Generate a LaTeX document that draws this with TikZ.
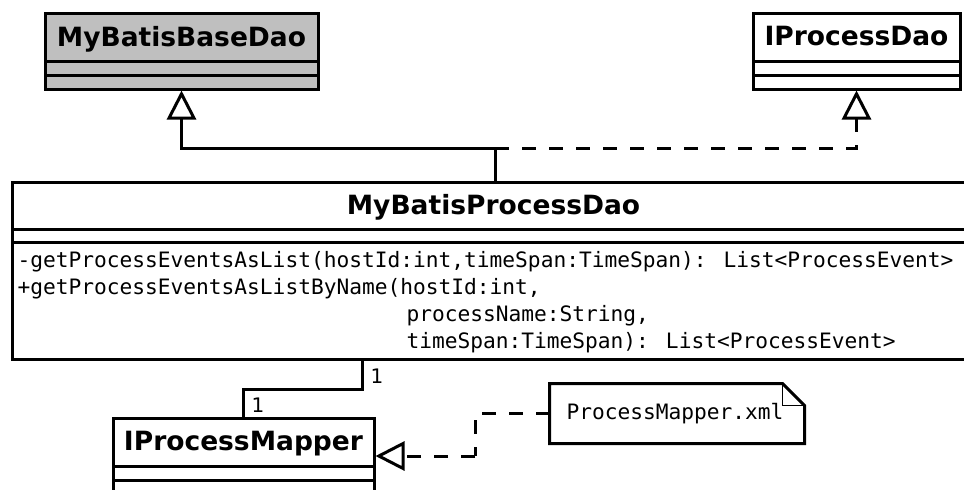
\documentclass[tikz,border=0pt]{standalone}
\usepackage{fontspec}
\newfontfamily\namefont{DejaVu Sans}
\newfontfamily\monofont{DejaVu Sans Mono}
\usetikzlibrary{arrows.meta}
\begin{document}
\begin{tikzpicture}[x=1pt,y=-1pt,
  line width=3pt,
  classbox/.style={draw=black, line width=3pt, rectangle, inner sep=0pt, fill=white},
  classname/.style={font=\namefont\bfseries\fontsize{26.5}{30}\selectfont, anchor=base, inner sep=0pt},
  method/.style={font=\monofont\fontsize{21.2}{27}\selectfont, anchor=base west, inner sep=0pt},
  mult/.style={font=\namefont\fontsize{20}{24}\selectfont, anchor=base west, inner sep=0pt},
  sep/.style={line width=3pt},
  assoc/.style={line width=3pt},
  generalize/.style={line width=3pt, -{Triangle[open, length=29pt, width=29pt, line width=3pt]}},
  realize/.style={line width=3pt, dash pattern=on 14pt off 13pt, -{Triangle[open, length=29pt, width=29pt, line width=3pt]}},
  notelink/.style={line width=3pt, dash pattern=on 14pt off 13pt},
]
\useasboundingbox (0,0) rectangle (964,490);
\clip (0,0) rectangle (964,490);
\fill[white] (0,0) rectangle (964,490);

% MyBatisBaseDao (grey superclass)
\node[classbox, fill=black!25, minimum width=273pt, minimum height=76pt] (base) at (181.5,51) {};
\node[classname] (basename) at (181.5,46) {MyBatisBaseDao};
\draw[sep] (45,61) -- (318,61);
\draw[sep] (45,75) -- (318,75);

% IProcessDao interface
\node[classbox, minimum width=207pt, minimum height=76pt] (ipd) at (856.5,51) {};
\node[classname] (ipdname) at (856.5,45) {IProcessDao};
\draw[sep] (753,61) -- (960,61);
\draw[sep] (753,75) -- (960,75);

% MyBatisProcessDao implementation
\node[classbox, minimum width=963pt, minimum height=177pt] (proc) at (493.5,270.5) {};
\node[classname] (procname) at (493.5,214) {MyBatisProcessDao};
\draw[sep] (12,229) -- (975,229);
\draw[sep] (12,242) -- (975,242);
\node[method] (m1) at (16,267) {-getProcessEventsAsList(hostId:int,timeSpan:TimeSpan): List<ProcessEvent>};
\node[method] (m2) at (16,294) {+getProcessEventsAsListByName(hostId:int,};
\node[method] (m3) at (405,321) {processName:String,};
\node[method] (m4) at (405,348) {timeSpan:TimeSpan): List<ProcessEvent>};

% IProcessMapper interface
\node[classbox, minimum width=261pt, minimum height=82pt] (mapper) at (243.5,459) {};
\node[classname] (mappername) at (243.5,450) {IProcessMapper};
\draw[sep] (113,466) -- (374,466);
\draw[sep] (113,480) -- (374,480);

% Note attached to the mapper
\node[inner sep=0pt, minimum width=252pt, minimum height=57pt,
      font=\monofont\fontsize{21.2}{27}\selectfont] (note) at (675,413.5) {ProcessMapper.xml};
\draw[line width=3pt, line join=miter]
  ([xshift=2pt]note.north west) -- ([xshift=-20pt]note.north east)
  -- ([xshift=2pt,yshift=-22pt]note.north east) -- ([xshift=2pt]note.south east)
  -- ([xshift=2pt]note.south west) -- cycle;
\draw[line width=1.5pt] ([xshift=-20pt]note.north east) |- ([xshift=2pt,yshift=-22pt]note.north east);

% Inheritance and realization
\coordinate (j) at (495,148);
\draw[assoc] (proc.north -| j) -- (j);
\draw[generalize] (j) -| (base.south);
\draw[realize] (j) -| (ipd.south);

% Association between DAO and mapper
\coordinate (a1) at (362,389);
\draw[assoc] (proc.south -| a1) -- (a1) -| (mapper.north);
\node[mult] (mult1) at (369,383) {1};
\node[mult] (mult2) at (250,412) {1};

% Note link to the mapper
\coordinate (k) at (475,456);
\draw[notelink] ([xshift=2pt]note.west) -| (k);
\draw[realize] (k) -- (k -| mapper.east);
\end{tikzpicture}
\end{document}
